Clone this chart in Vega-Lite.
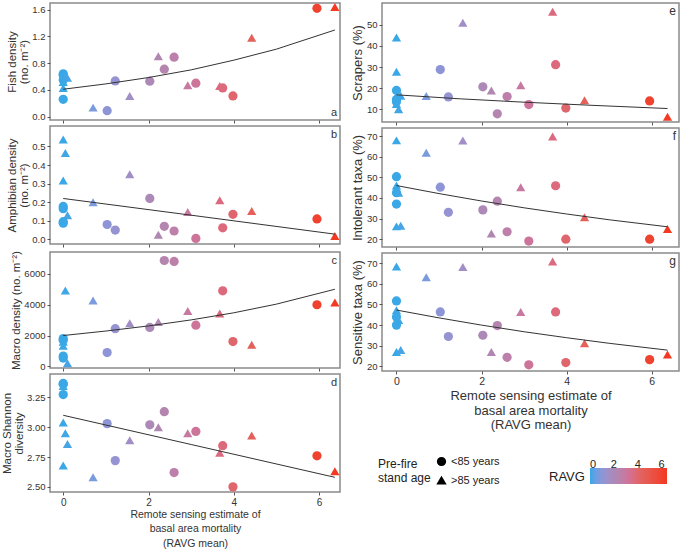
{
  "$schema": "https://vega.github.io/schema/vega-lite/v6.json",
  "padding": {"left": 0, "top": 2, "right": 2, "bottom": 0},
  "config": {
    "font": "Liberation Sans",
    "view": {"stroke": "#8a8a8a", "strokeWidth": 1.5},
    "axis": {"labelFontSize": 9.5, "titleFontSize": 11.5, "titleFontWeight": "normal", "labelColor": "#333", "titleColor": "#333", "tickColor": "#555", "domain": false, "grid": false, "tickSize": 3, "labelPadding": 2, "titlePadding": 2, "labelOverlap": false, "titleLineHeight": 12, "tickCount": 20},
    "text": {"font": "Liberation Sans", "fontSize": 11, "color": "#333"},
    "legend": {"titleFontWeight": "normal", "titleColor": "#222", "labelColor": "#222"}
  },
  "datasets": {
    "labels": [
      {"panel":"a","label":"a"},{"panel":"b","label":"b"},{"panel":"c","label":"c"},{"panel":"d","label":"d"},
      {"panel":"e","label":"e"},{"panel":"f","label":"f"},{"panel":"g","label":"g"}
    ],
    "pts": [
      {"panel":"a","ravg":0,"value":0.64,"age":"<85 years"},
      {"panel":"a","ravg":0,"value":0.62,"age":"<85 years"},
      {"panel":"a","ravg":0,"value":0.55,"age":"<85 years"},
      {"panel":"a","ravg":0,"value":0.26,"age":"<85 years"},
      {"panel":"a","ravg":0.05,"value":0.60,"age":">85 years"},
      {"panel":"a","ravg":0.1,"value":0.58,"age":">85 years"},
      {"panel":"a","ravg":0,"value":0.52,"age":">85 years"},
      {"panel":"a","ravg":0,"value":0.43,"age":">85 years"},
      {"panel":"a","ravg":0.7,"value":0.135,"age":">85 years"},
      {"panel":"a","ravg":1.03,"value":0.09,"age":"<85 years"},
      {"panel":"a","ravg":1.22,"value":0.535,"age":"<85 years"},
      {"panel":"a","ravg":1.56,"value":0.31,"age":">85 years"},
      {"panel":"a","ravg":2.03,"value":0.53,"age":"<85 years"},
      {"panel":"a","ravg":2.23,"value":0.905,"age":">85 years"},
      {"panel":"a","ravg":2.37,"value":0.71,"age":"<85 years"},
      {"panel":"a","ravg":2.6,"value":0.89,"age":"<85 years"},
      {"panel":"a","ravg":2.92,"value":0.47,"age":">85 years"},
      {"panel":"a","ravg":3.11,"value":0.50,"age":"<85 years"},
      {"panel":"a","ravg":3.67,"value":0.46,"age":">85 years"},
      {"panel":"a","ravg":3.74,"value":0.43,"age":"<85 years"},
      {"panel":"a","ravg":3.98,"value":0.31,"age":"<85 years"},
      {"panel":"a","ravg":4.42,"value":1.18,"age":">85 years"},
      {"panel":"a","ravg":5.95,"value":1.62,"age":"<85 years"},
      {"panel":"a","ravg":6.37,"value":1.64,"age":">85 years"},

      {"panel":"b","ravg":0,"value":0.537,"age":">85 years"},
      {"panel":"b","ravg":0.05,"value":0.465,"age":">85 years"},
      {"panel":"b","ravg":0,"value":0.317,"age":">85 years"},
      {"panel":"b","ravg":0.1,"value":0.13,"age":">85 years"},
      {"panel":"b","ravg":0,"value":0.177,"age":"<85 years"},
      {"panel":"b","ravg":0,"value":0.165,"age":"<85 years"},
      {"panel":"b","ravg":0,"value":0.095,"age":"<85 years"},
      {"panel":"b","ravg":0,"value":0.087,"age":"<85 years"},
      {"panel":"b","ravg":0.7,"value":0.20,"age":">85 years"},
      {"panel":"b","ravg":1.03,"value":0.08,"age":"<85 years"},
      {"panel":"b","ravg":1.22,"value":0.05,"age":"<85 years"},
      {"panel":"b","ravg":1.56,"value":0.35,"age":">85 years"},
      {"panel":"b","ravg":2.03,"value":0.22,"age":"<85 years"},
      {"panel":"b","ravg":2.23,"value":0.025,"age":">85 years"},
      {"panel":"b","ravg":2.37,"value":0.07,"age":"<85 years"},
      {"panel":"b","ravg":2.6,"value":0.045,"age":"<85 years"},
      {"panel":"b","ravg":2.92,"value":0.147,"age":">85 years"},
      {"panel":"b","ravg":3.11,"value":0.005,"age":"<85 years"},
      {"panel":"b","ravg":3.67,"value":0.21,"age":">85 years"},
      {"panel":"b","ravg":3.74,"value":0.062,"age":"<85 years"},
      {"panel":"b","ravg":3.98,"value":0.135,"age":"<85 years"},
      {"panel":"b","ravg":4.42,"value":0.152,"age":">85 years"},
      {"panel":"b","ravg":5.95,"value":0.11,"age":"<85 years"},
      {"panel":"b","ravg":6.37,"value":0.018,"age":">85 years"},

      {"panel":"c","ravg":0.05,"value":4913,"age":">85 years"},
      {"panel":"c","ravg":0,"value":1800,"age":"<85 years"},
      {"panel":"c","ravg":0,"value":1700,"age":"<85 years"},
      {"panel":"c","ravg":0,"value":1600,"age":">85 years"},
      {"panel":"c","ravg":0,"value":1340,"age":">85 years"},
      {"panel":"c","ravg":0,"value":670,"age":"<85 years"},
      {"panel":"c","ravg":0,"value":540,"age":"<85 years"},
      {"panel":"c","ravg":0.1,"value":210,"age":">85 years"},
      {"panel":"c","ravg":0.7,"value":4260,"age":">85 years"},
      {"panel":"c","ravg":1.03,"value":900,"age":"<85 years"},
      {"panel":"c","ravg":1.22,"value":2440,"age":"<85 years"},
      {"panel":"c","ravg":1.56,"value":2800,"age":">85 years"},
      {"panel":"c","ravg":2.03,"value":2520,"age":"<85 years"},
      {"panel":"c","ravg":2.23,"value":2880,"age":">85 years"},
      {"panel":"c","ravg":2.37,"value":6850,"age":"<85 years"},
      {"panel":"c","ravg":2.6,"value":6790,"age":"<85 years"},
      {"panel":"c","ravg":2.92,"value":3590,"age":">85 years"},
      {"panel":"c","ravg":3.11,"value":2670,"age":"<85 years"},
      {"panel":"c","ravg":3.67,"value":3430,"age":">85 years"},
      {"panel":"c","ravg":3.74,"value":4890,"age":"<85 years"},
      {"panel":"c","ravg":3.98,"value":1610,"age":"<85 years"},
      {"panel":"c","ravg":4.42,"value":1400,"age":">85 years"},
      {"panel":"c","ravg":5.95,"value":3990,"age":"<85 years"},
      {"panel":"c","ravg":6.37,"value":4140,"age":">85 years"},

      {"panel":"d","ravg":0,"value":3.367,"age":"<85 years"},
      {"panel":"d","ravg":0,"value":3.36,"age":"<85 years"},
      {"panel":"d","ravg":0,"value":3.345,"age":">85 years"},
      {"panel":"d","ravg":0,"value":3.274,"age":"<85 years"},
      {"panel":"d","ravg":0,"value":3.04,"age":">85 years"},
      {"panel":"d","ravg":0.05,"value":2.95,"age":">85 years"},
      {"panel":"d","ravg":0.1,"value":2.86,"age":">85 years"},
      {"panel":"d","ravg":0,"value":2.68,"age":">85 years"},
      {"panel":"d","ravg":0.7,"value":2.58,"age":">85 years"},
      {"panel":"d","ravg":1.03,"value":3.03,"age":"<85 years"},
      {"panel":"d","ravg":1.22,"value":2.72,"age":"<85 years"},
      {"panel":"d","ravg":1.56,"value":2.89,"age":">85 years"},
      {"panel":"d","ravg":2.03,"value":3.02,"age":"<85 years"},
      {"panel":"d","ravg":2.23,"value":3.00,"age":">85 years"},
      {"panel":"d","ravg":2.37,"value":3.13,"age":"<85 years"},
      {"panel":"d","ravg":2.6,"value":2.62,"age":"<85 years"},
      {"panel":"d","ravg":2.92,"value":2.95,"age":">85 years"},
      {"panel":"d","ravg":3.11,"value":2.965,"age":"<85 years"},
      {"panel":"d","ravg":3.67,"value":2.785,"age":">85 years"},
      {"panel":"d","ravg":3.74,"value":2.845,"age":"<85 years"},
      {"panel":"d","ravg":3.98,"value":2.50,"age":"<85 years"},
      {"panel":"d","ravg":4.42,"value":2.93,"age":">85 years"},
      {"panel":"d","ravg":5.95,"value":2.76,"age":"<85 years"},
      {"panel":"d","ravg":6.37,"value":2.63,"age":">85 years"},

      {"panel":"e","ravg":0,"value":44.0,"age":">85 years"},
      {"panel":"e","ravg":0,"value":27.8,"age":">85 years"},
      {"panel":"e","ravg":0,"value":18.9,"age":"<85 years"},
      {"panel":"e","ravg":0.1,"value":16.4,"age":">85 years"},
      {"panel":"e","ravg":0,"value":14.6,"age":"<85 years"},
      {"panel":"e","ravg":0,"value":13.5,"age":"<85 years"},
      {"panel":"e","ravg":0,"value":12.4,"age":">85 years"},
      {"panel":"e","ravg":0.05,"value":9.9,"age":">85 years"},
      {"panel":"e","ravg":0.7,"value":16.3,"age":">85 years"},
      {"panel":"e","ravg":1.03,"value":28.8,"age":"<85 years"},
      {"panel":"e","ravg":1.22,"value":15.8,"age":"<85 years"},
      {"panel":"e","ravg":1.56,"value":51.0,"age":">85 years"},
      {"panel":"e","ravg":2.03,"value":20.6,"age":"<85 years"},
      {"panel":"e","ravg":2.23,"value":18.9,"age":">85 years"},
      {"panel":"e","ravg":2.37,"value":7.8,"age":"<85 years"},
      {"panel":"e","ravg":2.6,"value":16.0,"age":"<85 years"},
      {"panel":"e","ravg":2.92,"value":21.3,"age":">85 years"},
      {"panel":"e","ravg":3.11,"value":12.2,"age":"<85 years"},
      {"panel":"e","ravg":3.67,"value":56.3,"age":">85 years"},
      {"panel":"e","ravg":3.74,"value":31.1,"age":"<85 years"},
      {"panel":"e","ravg":3.98,"value":10.5,"age":"<85 years"},
      {"panel":"e","ravg":4.42,"value":14.2,"age":">85 years"},
      {"panel":"e","ravg":5.95,"value":13.9,"age":"<85 years"},
      {"panel":"e","ravg":6.37,"value":6.4,"age":">85 years"},

      {"panel":"f","ravg":0,"value":67.9,"age":">85 years"},
      {"panel":"f","ravg":0,"value":50.3,"age":"<85 years"},
      {"panel":"f","ravg":0,"value":46.0,"age":">85 years"},
      {"panel":"f","ravg":0,"value":42.5,"age":"<85 years"},
      {"panel":"f","ravg":0.05,"value":42.5,"age":">85 years"},
      {"panel":"f","ravg":0,"value":37.0,"age":"<85 years"},
      {"panel":"f","ravg":0,"value":26.2,"age":">85 years"},
      {"panel":"f","ravg":0.1,"value":26.5,"age":">85 years"},
      {"panel":"f","ravg":0.7,"value":61.9,"age":">85 years"},
      {"panel":"f","ravg":1.03,"value":45.2,"age":"<85 years"},
      {"panel":"f","ravg":1.22,"value":33.0,"age":"<85 years"},
      {"panel":"f","ravg":1.56,"value":67.8,"age":">85 years"},
      {"panel":"f","ravg":2.03,"value":34.2,"age":"<85 years"},
      {"panel":"f","ravg":2.23,"value":22.8,"age":">85 years"},
      {"panel":"f","ravg":2.37,"value":38.4,"age":"<85 years"},
      {"panel":"f","ravg":2.6,"value":23.6,"age":"<85 years"},
      {"panel":"f","ravg":2.92,"value":45.2,"age":">85 years"},
      {"panel":"f","ravg":3.11,"value":19.1,"age":"<85 years"},
      {"panel":"f","ravg":3.67,"value":69.8,"age":">85 years"},
      {"panel":"f","ravg":3.74,"value":45.9,"age":"<85 years"},
      {"panel":"f","ravg":3.98,"value":20.0,"age":"<85 years"},
      {"panel":"f","ravg":4.42,"value":30.6,"age":">85 years"},
      {"panel":"f","ravg":5.95,"value":20.0,"age":"<85 years"},
      {"panel":"f","ravg":6.37,"value":24.9,"age":">85 years"},

      {"panel":"g","ravg":0,"value":68.4,"age":">85 years"},
      {"panel":"g","ravg":0,"value":51.7,"age":"<85 years"},
      {"panel":"g","ravg":0,"value":47.2,"age":">85 years"},
      {"panel":"g","ravg":0,"value":43.9,"age":"<85 years"},
      {"panel":"g","ravg":0.05,"value":42.5,"age":">85 years"},
      {"panel":"g","ravg":0,"value":40.0,"age":"<85 years"},
      {"panel":"g","ravg":0,"value":27.0,"age":">85 years"},
      {"panel":"g","ravg":0.1,"value":28.0,"age":">85 years"},
      {"panel":"g","ravg":0.7,"value":63.2,"age":">85 years"},
      {"panel":"g","ravg":1.03,"value":46.4,"age":"<85 years"},
      {"panel":"g","ravg":1.22,"value":34.5,"age":"<85 years"},
      {"panel":"g","ravg":1.56,"value":68.1,"age":">85 years"},
      {"panel":"g","ravg":2.03,"value":35.1,"age":"<85 years"},
      {"panel":"g","ravg":2.23,"value":27.0,"age":">85 years"},
      {"panel":"g","ravg":2.37,"value":39.8,"age":"<85 years"},
      {"panel":"g","ravg":2.6,"value":24.4,"age":"<85 years"},
      {"panel":"g","ravg":2.92,"value":46.4,"age":">85 years"},
      {"panel":"g","ravg":3.11,"value":20.8,"age":"<85 years"},
      {"panel":"g","ravg":3.67,"value":70.8,"age":">85 years"},
      {"panel":"g","ravg":3.74,"value":46.4,"age":"<85 years"},
      {"panel":"g","ravg":3.98,"value":21.9,"age":"<85 years"},
      {"panel":"g","ravg":4.42,"value":31.2,"age":">85 years"},
      {"panel":"g","ravg":5.95,"value":23.3,"age":"<85 years"},
      {"panel":"g","ravg":6.37,"value":25.8,"age":">85 years"}
    ],
    "fits": [
      {"panel":"a","ravg":0,"value":0.41},
      {"panel":"a","ravg":1,"value":0.49},
      {"panel":"a","ravg":2,"value":0.585},
      {"panel":"a","ravg":3,"value":0.70},
      {"panel":"a","ravg":4,"value":0.845},
      {"panel":"a","ravg":5,"value":1.01},
      {"panel":"a","ravg":6.37,"value":1.296},
      {"panel":"b","ravg":0,"value":0.22},
      {"panel":"b","ravg":3,"value":0.13},
      {"panel":"b","ravg":6.37,"value":0.028},
      {"panel":"c","ravg":0,"value":2000},
      {"panel":"c","ravg":1,"value":2290},
      {"panel":"c","ravg":2,"value":2620},
      {"panel":"c","ravg":3,"value":3010},
      {"panel":"c","ravg":4,"value":3470},
      {"panel":"c","ravg":5,"value":4030},
      {"panel":"c","ravg":6.37,"value":4990},
      {"panel":"d","ravg":0,"value":3.10},
      {"panel":"d","ravg":3,"value":2.855},
      {"panel":"d","ravg":6.37,"value":2.58},
      {"panel":"e","ravg":0,"value":16.8},
      {"panel":"e","ravg":1.5,"value":14.9},
      {"panel":"e","ravg":3,"value":13.3},
      {"panel":"e","ravg":4.5,"value":11.9},
      {"panel":"e","ravg":6.37,"value":10.3},
      {"panel":"f","ravg":0,"value":46.0},
      {"panel":"f","ravg":1,"value":42.1},
      {"panel":"f","ravg":2,"value":38.5},
      {"panel":"f","ravg":3,"value":35.2},
      {"panel":"f","ravg":4,"value":32.2},
      {"panel":"f","ravg":5,"value":29.4},
      {"panel":"f","ravg":6.37,"value":26.0},
      {"panel":"g","ravg":0,"value":47.3},
      {"panel":"g","ravg":1,"value":43.5},
      {"panel":"g","ravg":2,"value":40.0},
      {"panel":"g","ravg":3,"value":36.8},
      {"panel":"g","ravg":4,"value":33.9},
      {"panel":"g","ravg":5,"value":31.2},
      {"panel":"g","ravg":6.37,"value":27.9}
    ]
  },
  "hconcat": [
    {
      "spacing": 0,
      "vconcat": [
        {
          "width": 290, "height": 117,
          "layer": [
            {"data": {"name": "pts"}, "transform": [{"filter": "datum.panel === 'a'"}],
             "mark": {"type": "point", "filled": true, "opacity": 1, "size": 85},
             "encoding": {
               "x": {"field": "ravg", "type": "quantitative", "scale": {"domain": [-0.31, 6.49], "nice": false, "zero": false}, "axis": {"values": [0, 2, 4, 6], "format": "d", "labels": false, "title": null}},
               "y": {"field": "value", "type": "quantitative", "scale": {"domain": [-0.05, 1.7], "nice": false, "zero": false}, "axis": {"values": [0, 0.4, 0.8, 1.2, 1.6], "format": ".1f", "title": ["Fish density", "(no. m⁻²)"]}},
               "color": {"field": "ravg", "type": "quantitative", "scale": {"domain": [0, 2.2, 4.2, 6.45], "range": ["#3aa7e6", "#ae88b0", "#e0655f", "#f2381f"]}, "legend": {"orient": "none", "legendX": 499, "legendY": 465, "title": "RAVG", "titleOrient": "left", "titleAnchor": "end", "titleBaseline": "bottom", "direction": "horizontal", "gradientLength": 77, "gradientThickness": 16, "values": [0, 2, 4, 6], "format": "d", "labelOffset": -25, "labelFontSize": 11, "titleFontSize": 13}},
               "shape": {"field": "age", "type": "nominal", "scale": {"domain": ["<85 years", ">85 years"], "range": ["circle", "triangle-up"]}, "legend": {"orient": "none", "legendX": 328, "legendY": 453, "title": ["Pre-fire", "stand age"], "titleOrient": "left", "titleFontSize": 12, "labelFontSize": 11, "symbolFillColor": "black", "symbolStrokeColor": "black", "symbolSize": 60, "rowPadding": 5}}
             }},
            {"data": {"name": "fits"}, "transform": [{"filter": "datum.panel === 'a'"}],
             "mark": {"type": "line", "color": "#333", "strokeWidth": 1},
             "encoding": {"x": {"field": "ravg", "type": "quantitative"}, "y": {"field": "value", "type": "quantitative"}}},
            {"data": {"name": "labels"}, "transform": [{"filter": "datum.panel === 'a'"}],
             "mark": {"type": "text", "align": "right", "baseline": "bottom", "dx": -3, "dy": -2},
             "encoding": {"x": {"datum": 6.49}, "y": {"datum": -0.05}, "text": {"field": "label"}}}
          ]
        },
        {
          "width": 290, "height": 118,
          "layer": [
            {"data": {"name": "pts"}, "transform": [{"filter": "datum.panel === 'b'"}],
             "mark": {"type": "point", "filled": true, "opacity": 1, "size": 85},
             "encoding": {
               "x": {"field": "ravg", "type": "quantitative", "scale": {"domain": [-0.31, 6.49], "nice": false, "zero": false}, "axis": {"values": [0, 2, 4, 6], "format": "d", "labels": false, "title": null}},
               "y": {"field": "value", "type": "quantitative", "scale": {"domain": [-0.025, 0.61], "nice": false, "zero": false}, "axis": {"values": [0, 0.1, 0.2, 0.3, 0.4, 0.5], "format": ".1f", "title": ["Amphibian density", "(no. m⁻²)"]}},
               "color": {"field": "ravg", "type": "quantitative", "scale": {"domain": [0, 2.2, 4.2, 6.45], "range": ["#3aa7e6", "#ae88b0", "#e0655f", "#f2381f"]}, "legend": {"orient": "none", "legendX": 499, "legendY": 465, "title": "RAVG", "titleOrient": "left", "titleAnchor": "end", "titleBaseline": "bottom", "direction": "horizontal", "gradientLength": 77, "gradientThickness": 16, "values": [0, 2, 4, 6], "format": "d", "labelOffset": -25, "labelFontSize": 11, "titleFontSize": 13}},
               "shape": {"field": "age", "type": "nominal", "scale": {"domain": ["<85 years", ">85 years"], "range": ["circle", "triangle-up"]}, "legend": {"orient": "none", "legendX": 328, "legendY": 453, "title": ["Pre-fire", "stand age"], "titleOrient": "left", "titleFontSize": 12, "labelFontSize": 11, "symbolFillColor": "black", "symbolStrokeColor": "black", "symbolSize": 60, "rowPadding": 5}}
             }},
            {"data": {"name": "fits"}, "transform": [{"filter": "datum.panel === 'b'"}],
             "mark": {"type": "line", "color": "#333", "strokeWidth": 1},
             "encoding": {"x": {"field": "ravg", "type": "quantitative"}, "y": {"field": "value", "type": "quantitative"}}},
            {"data": {"name": "labels"}, "transform": [{"filter": "datum.panel === 'b'"}],
             "mark": {"type": "text", "align": "right", "baseline": "top", "dx": -3, "dy": 3},
             "encoding": {"x": {"datum": 6.49}, "y": {"datum": 0.61}, "text": {"field": "label"}}}
          ]
        },
        {
          "width": 290, "height": 116,
          "layer": [
            {"data": {"name": "pts"}, "transform": [{"filter": "datum.panel === 'c'"}],
             "mark": {"type": "point", "filled": true, "opacity": 1, "size": 85},
             "encoding": {
               "x": {"field": "ravg", "type": "quantitative", "scale": {"domain": [-0.31, 6.49], "nice": false, "zero": false}, "axis": {"values": [0, 2, 4, 6], "format": "d", "labels": false, "title": null}},
               "y": {"field": "value", "type": "quantitative", "scale": {"domain": [-100, 7400], "nice": false, "zero": false}, "axis": {"values": [0, 2000, 4000, 6000], "format": "d", "title": "Macro density (no. m⁻²)"}},
               "color": {"field": "ravg", "type": "quantitative", "scale": {"domain": [0, 2.2, 4.2, 6.45], "range": ["#3aa7e6", "#ae88b0", "#e0655f", "#f2381f"]}, "legend": {"orient": "none", "legendX": 499, "legendY": 465, "title": "RAVG", "titleOrient": "left", "titleAnchor": "end", "titleBaseline": "bottom", "direction": "horizontal", "gradientLength": 77, "gradientThickness": 16, "values": [0, 2, 4, 6], "format": "d", "labelOffset": -25, "labelFontSize": 11, "titleFontSize": 13}},
               "shape": {"field": "age", "type": "nominal", "scale": {"domain": ["<85 years", ">85 years"], "range": ["circle", "triangle-up"]}, "legend": {"orient": "none", "legendX": 328, "legendY": 453, "title": ["Pre-fire", "stand age"], "titleOrient": "left", "titleFontSize": 12, "labelFontSize": 11, "symbolFillColor": "black", "symbolStrokeColor": "black", "symbolSize": 60, "rowPadding": 5}}
             }},
            {"data": {"name": "fits"}, "transform": [{"filter": "datum.panel === 'c'"}],
             "mark": {"type": "line", "color": "#333", "strokeWidth": 1},
             "encoding": {"x": {"field": "ravg", "type": "quantitative"}, "y": {"field": "value", "type": "quantitative"}}},
            {"data": {"name": "labels"}, "transform": [{"filter": "datum.panel === 'c'"}],
             "mark": {"type": "text", "align": "right", "baseline": "top", "dx": -3, "dy": 3},
             "encoding": {"x": {"datum": 6.49}, "y": {"datum": 7400}, "text": {"field": "label"}}}
          ]
        },
        {
          "width": 290, "height": 118,
          "layer": [
            {"data": {"name": "pts"}, "transform": [{"filter": "datum.panel === 'd'"}],
             "mark": {"type": "point", "filled": true, "opacity": 1, "size": 85},
             "encoding": {
               "x": {"field": "ravg", "type": "quantitative", "scale": {"domain": [-0.31, 6.49], "nice": false, "zero": false}, "axis": {"values": [0, 2, 4, 6], "format": "d", "labelFontSize": 10, "title": ["Remote sensing estimate of", "basal area mortality", "(RAVG mean)"], "titleFontSize": 10.5, "titleLineHeight": 14.5, "titlePadding": 2}},
               "y": {"field": "value", "type": "quantitative", "scale": {"domain": [2.457, 3.446], "nice": false, "zero": false}, "axis": {"values": [2.5, 2.75, 3, 3.25], "format": ".2f", "title": ["Macro Shannon", "diversity"]}},
               "color": {"field": "ravg", "type": "quantitative", "scale": {"domain": [0, 2.2, 4.2, 6.45], "range": ["#3aa7e6", "#ae88b0", "#e0655f", "#f2381f"]}, "legend": {"orient": "none", "legendX": 499, "legendY": 465, "title": "RAVG", "titleOrient": "left", "titleAnchor": "end", "titleBaseline": "bottom", "direction": "horizontal", "gradientLength": 77, "gradientThickness": 16, "values": [0, 2, 4, 6], "format": "d", "labelOffset": -25, "labelFontSize": 11, "titleFontSize": 13}},
               "shape": {"field": "age", "type": "nominal", "scale": {"domain": ["<85 years", ">85 years"], "range": ["circle", "triangle-up"]}, "legend": {"orient": "none", "legendX": 328, "legendY": 453, "title": ["Pre-fire", "stand age"], "titleOrient": "left", "titleFontSize": 12, "labelFontSize": 11, "symbolFillColor": "black", "symbolStrokeColor": "black", "symbolSize": 60, "rowPadding": 5}}
             }},
            {"data": {"name": "fits"}, "transform": [{"filter": "datum.panel === 'd'"}],
             "mark": {"type": "line", "color": "#333", "strokeWidth": 1},
             "encoding": {"x": {"field": "ravg", "type": "quantitative"}, "y": {"field": "value", "type": "quantitative"}}},
            {"data": {"name": "labels"}, "transform": [{"filter": "datum.panel === 'd'"}],
             "mark": {"type": "text", "align": "right", "baseline": "top", "dx": -3, "dy": 3},
             "encoding": {"x": {"datum": 6.49}, "y": {"datum": 3.446}, "text": {"field": "label"}}}
          ]
        }
      ]
    },
    {
      "spacing": 0,
      "vconcat": [
        {
          "width": 297, "height": 119,
          "layer": [
            {"data": {"name": "pts"}, "transform": [{"filter": "datum.panel === 'e'"}],
             "mark": {"type": "point", "filled": true, "opacity": 1, "size": 85},
             "encoding": {
               "x": {"field": "ravg", "type": "quantitative", "scale": {"domain": [-0.34, 6.64], "nice": false, "zero": false}, "axis": {"values": [0, 2, 4, 6], "format": "d", "labels": false, "title": null}},
               "y": {"field": "value", "type": "quantitative", "scale": {"domain": [3.9, 60.4], "nice": false, "zero": false}, "axis": {"values": [10, 20, 30, 40, 50], "format": "d", "titleFontSize": 13, "title": "Scrapers (%)"}},
               "color": {"field": "ravg", "type": "quantitative", "scale": {"domain": [0, 2.2, 4.2, 6.45], "range": ["#3aa7e6", "#ae88b0", "#e0655f", "#f2381f"]}, "legend": {"orient": "none", "legendX": 499, "legendY": 465, "title": "RAVG", "titleOrient": "left", "titleAnchor": "end", "titleBaseline": "bottom", "direction": "horizontal", "gradientLength": 77, "gradientThickness": 16, "values": [0, 2, 4, 6], "format": "d", "labelOffset": -25, "labelFontSize": 11, "titleFontSize": 13}},
               "shape": {"field": "age", "type": "nominal", "scale": {"domain": ["<85 years", ">85 years"], "range": ["circle", "triangle-up"]}, "legend": {"orient": "none", "legendX": 328, "legendY": 453, "title": ["Pre-fire", "stand age"], "titleOrient": "left", "titleFontSize": 12, "labelFontSize": 11, "symbolFillColor": "black", "symbolStrokeColor": "black", "symbolSize": 60, "rowPadding": 5}}
             }},
            {"data": {"name": "fits"}, "transform": [{"filter": "datum.panel === 'e'"}],
             "mark": {"type": "line", "color": "#333", "strokeWidth": 1},
             "encoding": {"x": {"field": "ravg", "type": "quantitative"}, "y": {"field": "value", "type": "quantitative"}}},
            {"data": {"name": "labels"}, "transform": [{"filter": "datum.panel === 'e'"}],
             "mark": {"type": "text", "align": "right", "baseline": "top", "dx": -3, "dy": 3, "fontSize": 12},
             "encoding": {"x": {"datum": 6.64}, "y": {"datum": 60.4}, "text": {"field": "label"}}}
          ]
        },
        {
          "width": 297, "height": 119,
          "layer": [
            {"data": {"name": "pts"}, "transform": [{"filter": "datum.panel === 'f'"}],
             "mark": {"type": "point", "filled": true, "opacity": 1, "size": 85},
             "encoding": {
               "x": {"field": "ravg", "type": "quantitative", "scale": {"domain": [-0.34, 6.64], "nice": false, "zero": false}, "axis": {"values": [0, 2, 4, 6], "format": "d", "labels": false, "title": null}},
               "y": {"field": "value", "type": "quantitative", "scale": {"domain": [16.2, 73.9], "nice": false, "zero": false}, "axis": {"values": [20, 30, 40, 50, 60, 70], "format": "d", "titleFontSize": 13, "title": "Intolerant taxa (%)"}},
               "color": {"field": "ravg", "type": "quantitative", "scale": {"domain": [0, 2.2, 4.2, 6.45], "range": ["#3aa7e6", "#ae88b0", "#e0655f", "#f2381f"]}, "legend": {"orient": "none", "legendX": 499, "legendY": 465, "title": "RAVG", "titleOrient": "left", "titleAnchor": "end", "titleBaseline": "bottom", "direction": "horizontal", "gradientLength": 77, "gradientThickness": 16, "values": [0, 2, 4, 6], "format": "d", "labelOffset": -25, "labelFontSize": 11, "titleFontSize": 13}},
               "shape": {"field": "age", "type": "nominal", "scale": {"domain": ["<85 years", ">85 years"], "range": ["circle", "triangle-up"]}, "legend": {"orient": "none", "legendX": 328, "legendY": 453, "title": ["Pre-fire", "stand age"], "titleOrient": "left", "titleFontSize": 12, "labelFontSize": 11, "symbolFillColor": "black", "symbolStrokeColor": "black", "symbolSize": 60, "rowPadding": 5}}
             }},
            {"data": {"name": "fits"}, "transform": [{"filter": "datum.panel === 'f'"}],
             "mark": {"type": "line", "color": "#333", "strokeWidth": 1},
             "encoding": {"x": {"field": "ravg", "type": "quantitative"}, "y": {"field": "value", "type": "quantitative"}}},
            {"data": {"name": "labels"}, "transform": [{"filter": "datum.panel === 'f'"}],
             "mark": {"type": "text", "align": "right", "baseline": "top", "dx": -3, "dy": 3, "fontSize": 12},
             "encoding": {"x": {"datum": 6.64}, "y": {"datum": 73.9}, "text": {"field": "label"}}}
          ]
        },
        {
          "width": 297, "height": 118,
          "layer": [
            {"data": {"name": "pts"}, "transform": [{"filter": "datum.panel === 'g'"}],
             "mark": {"type": "point", "filled": true, "opacity": 1, "size": 85},
             "encoding": {
               "x": {"field": "ravg", "type": "quantitative", "scale": {"domain": [-0.34, 6.64], "nice": false, "zero": false}, "axis": {"values": [0, 2, 4, 6], "format": "d", "labelFontSize": 10.5, "title": ["Remote sensing estimate of", "basal area mortality", "(RAVG mean)"], "titleFontSize": 13, "titleLineHeight": 14.5, "titlePadding": 3}},
               "y": {"field": "value", "type": "quantitative", "scale": {"domain": [17.8, 74.9], "nice": false, "zero": false}, "axis": {"values": [20, 30, 40, 50, 60, 70], "format": "d", "titleFontSize": 13, "title": "Sensitive taxa (%)"}},
               "color": {"field": "ravg", "type": "quantitative", "scale": {"domain": [0, 2.2, 4.2, 6.45], "range": ["#3aa7e6", "#ae88b0", "#e0655f", "#f2381f"]}, "legend": {"orient": "none", "legendX": 499, "legendY": 465, "title": "RAVG", "titleOrient": "left", "titleAnchor": "end", "titleBaseline": "bottom", "direction": "horizontal", "gradientLength": 77, "gradientThickness": 16, "values": [0, 2, 4, 6], "format": "d", "labelOffset": -25, "labelFontSize": 11, "titleFontSize": 13}},
               "shape": {"field": "age", "type": "nominal", "scale": {"domain": ["<85 years", ">85 years"], "range": ["circle", "triangle-up"]}, "legend": {"orient": "none", "legendX": 328, "legendY": 453, "title": ["Pre-fire", "stand age"], "titleOrient": "left", "titleFontSize": 12, "labelFontSize": 11, "symbolFillColor": "black", "symbolStrokeColor": "black", "symbolSize": 60, "rowPadding": 5}}
             }},
            {"data": {"name": "fits"}, "transform": [{"filter": "datum.panel === 'g'"}],
             "mark": {"type": "line", "color": "#333", "strokeWidth": 1},
             "encoding": {"x": {"field": "ravg", "type": "quantitative"}, "y": {"field": "value", "type": "quantitative"}}},
            {"data": {"name": "labels"}, "transform": [{"filter": "datum.panel === 'g'"}],
             "mark": {"type": "text", "align": "right", "baseline": "top", "dx": -3, "dy": 3, "fontSize": 12},
             "encoding": {"x": {"datum": 6.64}, "y": {"datum": 74.9}, "text": {"field": "label"}}}
          ]
        }
      ]
    }
  ],
  "spacing": 9
}
